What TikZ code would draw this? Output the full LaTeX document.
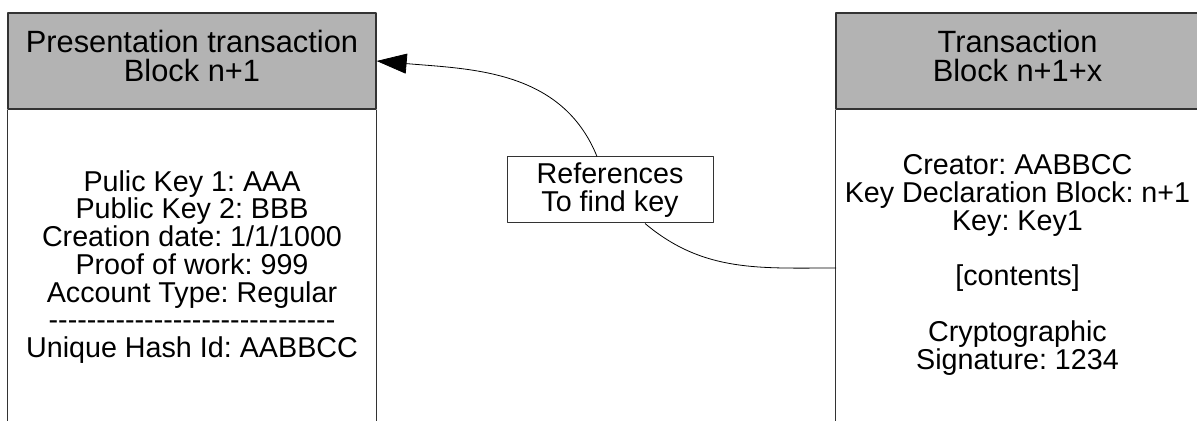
\documentclass[tikz,border=0pt]{standalone}
\usepackage{fontspec}
\setmainfont{Liberation Sans}
\usetikzlibrary{positioning,arrows.meta}
\definecolor{hdrgrey}{HTML}{B3B3B3}
\definecolor{edgegrey}{HTML}{333333}
\frenchspacing
% row of single hyphens (no -- ligatures)
\newcommand\hyphenrow{\foreach \k in {1,...,30}{-\kern0pt}}

\begin{document}
\begin{tikzpicture}[>={Triangle[length=30bp,width=20bp]},line join=bevel,
  head/.style={draw=edgegrey,fill=hdrgrey,line width=1.3bp,minimum width=368bp,minimum height=96bp,inner sep=0pt},
  title/.style={align=center,font=\fontsize{30.8bp}{29bp}\selectfont},
  body/.style={align=center,font=\fontsize{28.7bp}{27.75bp}\selectfont},
  side/.style={draw=edgegrey,line width=1.3bp},
  link/.style={black,line width=0.8bp}]
\useasboundingbox (0bp,0bp) rectangle (1197bp,421bp);
\coordinate (ground) at (0bp,0bp);
%% presentation block
\node (headA) at (192bp,360bp) [head] {};
\node (titleA) at (192bp,364.75bp) [title] {Presentation transaction\\Block n+1};
\draw [side] (headA.south west) -- (headA.south west |- ground);
\draw [side] (headA.south east) -- (headA.south east |- ground);
\node (bodyA) at (192bp,154bp) [body] {Pulic Key 1: AAA\\Public Key 2: BBB\\Creation date: 1/1/1000\\Proof of work: 999\\Account Type: Regular\\\hyphenrow\\Unique Hash Id: AABBCC};
%% transaction block
\node (headB) at (1017.5bp,360bp) [head,minimum width=363bp] {};
\node (titleB) at (1017.5bp,364.75bp) [title] {Transaction\\Block n+1+x};
\draw [side] (headB.south west) -- (headB.south west |- ground);
\node (bodyB) at (1017.5bp,156bp) [body] {Creator: AABBCC\\Key Declaration Block: n+1\\Key: Key1\\[27.75bp][contents]\\[27.75bp]Cryptographic\\Signature: 1234};
\coordinate (sideB) at (836bp,153bp);
%% reference note
\node (refs) at (610bp,231bp) [body,draw=edgegrey,line width=1bp,minimum width=206bp,minimum height=66bp,inner sep=0pt] {References\\To find key};
\draw [link,->] ([xshift=-13bp]refs.north) to[out=112,in=-5] (headA.east);
\draw [link] ([xshift=35bp]refs.south) to[out=-40,in=180] (sideB);
%
\end{tikzpicture}
\end{document}
